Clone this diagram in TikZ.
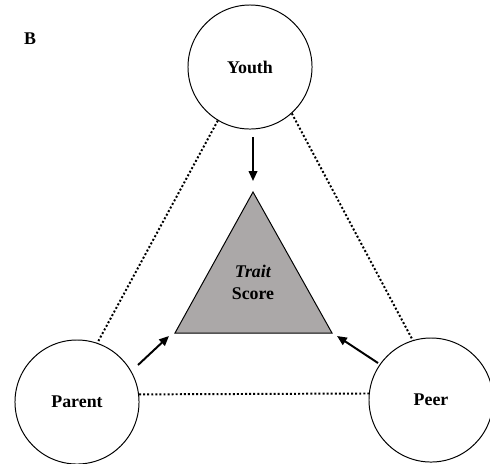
\documentclass[tikz,border=0pt]{standalone}
\usepackage{fontspec}
\setmainfont{Liberation Serif}
\usepackage{xcolor}
\usepackage{tikz}
\usetikzlibrary{arrows.meta}
\definecolor{traitgray}{RGB}{171,168,168}

\begin{document}
\begin{tikzpicture}[x=0.025cm, y=-0.025cm,
    rater/.style={draw, circle, line width=0.7pt, minimum size=3.1cm, font=\bfseries\fontsize{12.7}{14}\selectfont},
    link/.style={line width=1.4pt, dash pattern=on 1.4pt off 1.5pt},
    arr/.style={-{Triangle[length=7pt, width=6pt]}, line width=1.4pt}]
    \useasboundingbox (0,0) rectangle (490,463);

    % panel label
    \node[font=\bfseries\fontsize{12.7}{14}\selectfont] (panel) at (30,39) {B};

    % raters
    \node[rater] (youth) at (250,67) {Youth};
    \node[rater] (parent) at (77,402) {Parent};
    \node[rater] (peer) at (431,400) {Peer};

    % Trait score triangle
    \coordinate (apex) at (253,192);
    \coordinate (baseL) at (175,333);
    \coordinate (baseR) at (332,333);
    \draw[fill=traitgray, line width=0.7pt] (apex) -- (baseL) -- (baseR) -- cycle;
    \node[align=center, font=\bfseries\fontsize{12.7}{15.5}\selectfont] (trait) at (253,282) {\textit{Trait}\\Score};

    % dotted links between raters
    \draw[link] (youth.239) -- (parent.71);
    \draw[link] (youth.312) -- (peer.107);
    \draw[link] (parent.7) -- (peer.174);

    % arrows into the score
    \coordinate (youthTail) at (253,137);
    \coordinate (youthHead) at (253,181);
    \coordinate (parentTail) at (138,365);
    \coordinate (parentHead) at (169,336);
    \coordinate (peerTail) at (378,363);
    \coordinate (peerHead) at (337,336);
    \draw[arr] (youthTail) -- (youthHead);
    \draw[arr] (parentTail) -- (parentHead);
    \draw[arr] (peerTail) -- (peerHead);
\end{tikzpicture}
\end{document}
